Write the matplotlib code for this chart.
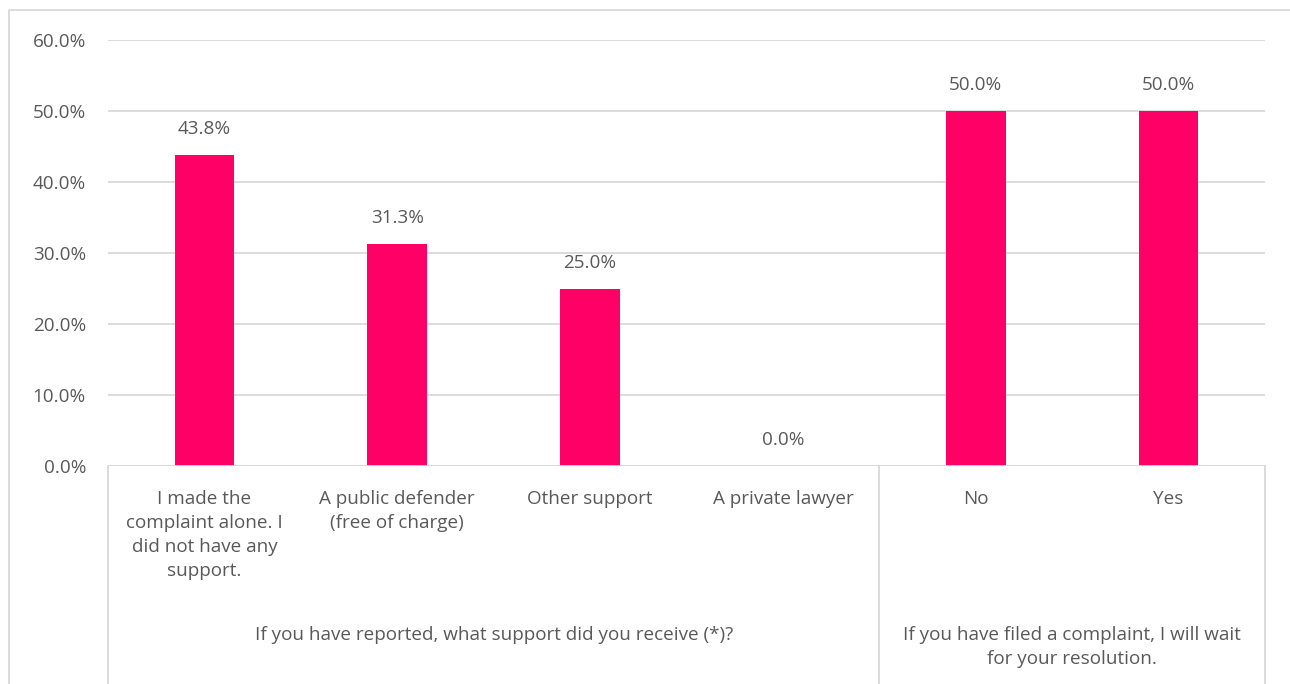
import matplotlib
matplotlib.use("Agg")
import matplotlib.pyplot as plt
from matplotlib.lines import Line2D
from matplotlib.transforms import blended_transform_factory

categories = [
    "I made the\ncomplaint alone. I\ndid not have any\nsupport.",
    "A public defender\n(free of charge)",
    "Other support",
    "A private lawyer",
    "No",
    "Yes",
]
values = [43.8, 31.3, 25.0, 0.0, 50.0, 50.0]
groups = [
    "If you have reported, what support did you receive (*)?",
    "If you have filed a complaint, I will wait\nfor your resolution.",
]
group_sizes = [4, 2]
y_ticks = [0, 10, 20, 30, 40, 50, 60]

BAR = "#FF0066"
GRID = "#D9D9D9"
TXT = "#595959"
FONT = "Open Sans"
FS = 13.6

plt.rcParams["font.family"] = [FONT, "DejaVu Sans"]

W, H = 1290, 684
fig = plt.figure(figsize=(W / 100, H / 100), dpi=100)
fig.patch.set_facecolor("white")

left, right, bottom_px, top_px = 108, 1265, 466, 40
ax = fig.add_axes([left / W, 1 - bottom_px / H, (right - left) / W, (bottom_px - top_px) / H])

x = list(range(len(categories)))
ax.bar(x, values, width=0.31, color=BAR, zorder=3)
ax.set_xlim(-0.5, len(categories) - 0.5)
ax.set_ylim(0, 60)
ax.set_yticks(y_ticks)
ax.set_yticklabels([f"{t:.1f}%" for t in y_ticks], fontsize=FS, color=TXT)
ax.tick_params(axis="y", length=0, pad=15.8)
ax.set_xticks([])
ax.yaxis.grid(True, color=GRID, linewidth=1.3, zorder=0)
for s in ax.spines.values():
    s.set_visible(False)
ax.axhline(0, color=GRID, linewidth=1.3, zorder=4)

for xi, v in zip(x, values):
    ax.annotate(f"{v:.1f}%", (xi, v), xytext=(0, 12), textcoords="offset points",
                ha="center", va="bottom", fontsize=FS, color=TXT)

tr = blended_transform_factory(ax.transData, fig.transFigure)

# category labels
for xi, c in zip(x, categories):
    ax.text(xi, 1 - 490 / H, c, transform=tr, ha="center", va="top",
            fontsize=FS, color=TXT, linespacing=1.42)

# group dividers and labels
start = -0.5
bounds = [start]
for g, n in zip(groups, group_sizes):
    end = start + n
    bounds.append(end)
    ax.text((start + end) / 2, 1 - 626 / H, g, transform=tr, ha="center", va="top",
            fontsize=FS, color=TXT, linespacing=1.42)
    start = end
for b in bounds:
    fig.add_artist(Line2D([b, b], [1 - bottom_px / H, 0], transform=tr, color=GRID, linewidth=1.3))

# chart border
fig.add_artist(Line2D([9 / W, 9 / W, 1.0], [0, 1 - 10 / H, 1 - 10 / H], transform=fig.transFigure,
                      color=GRID, linewidth=1.3))

fig.savefig("out.png", dpi=100)
